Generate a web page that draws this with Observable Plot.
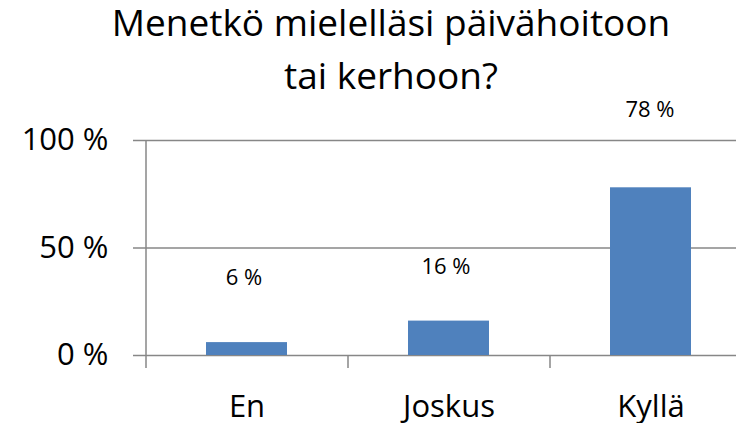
<!DOCTYPE html>
<html>
<head>
<meta charset="utf-8">
<script src="https://cdn.jsdelivr.net/npm/d3@7"></script>
<script src="https://cdn.jsdelivr.net/npm/@observablehq/plot@0.6"></script>
<style>
  html, body { margin: 0; padding: 0; background: white; overflow: hidden; }
  #chart { width: 736px; height: 423px; position: relative; font-family: "Open Sans", sans-serif; }
  #title {
    height: 100px; width: 736px; box-sizing: border-box; padding-left: 46px;
    text-align: center; font-size: 37px; line-height: 53px; color: #000;
    overflow: visible; position: relative; z-index: 1; white-space: nowrap;
  }
  #title span { position: relative; top: -5px; }
</style>
</head>
<body>
<div id="chart">
  <div id="title"><span>Menetkö mielelläsi päivähoitoon<br>tai kerhoon?</span></div>
</div>
<script>
const categories = ["En", "Joskus", "Kyllä"];
const values = [6, 16, 78];
const yTicks = [0, 50, 100];

const rows = categories.map((c, i) => ({cat: c, value: values[i]}));

// label placement offsets (pixels) as in the reference
const labelDy = [-65, -54, -78];
const labelDx = [-3, -3, -1];

const gray = "#878787";
const step = (751 - 145) / categories.length;

const labelMarks = rows.map((r, k) => Plot.text([r], {
  x: "cat", y: "value", text: d => d.value + " %",
  dy: labelDy[k], dx: labelDx[k], fontSize: 22, fill: "#000"
}));

const plot = Plot.plot({
  width: 736,
  height: 323,
  marginLeft: 145,
  marginRight: 0,
  marginTop: 40,
  marginBottom: 68,
  style: {background: "transparent", fontFamily: "Open Sans, sans-serif", overflow: "visible"},
  x: {type: "band", domain: categories, range: [145, 751], paddingInner: 0.6, paddingOuter: 0.3, align: 0.5},
  y: {domain: [0, 100]},
  marks: [
    Plot.ruleY(yTicks, {stroke: gray, strokeWidth: 1.5, strokeOpacity: 1}),
    Plot.ruleX([categories[0]], {y1: -6, y2: 100, dx: -step / 2, stroke: gray, strokeWidth: 1.5}),
    Plot.ruleX(categories.slice(1), {y1: -6, y2: 0, dx: -step / 2, stroke: gray, strokeWidth: 1.5}),
    Plot.barY(rows, {x: "cat", y: "value", fill: "#4f81bd"}),
    Plot.axisY({ticks: yTicks, tickFormat: d => d + " %", tickSize: 12, tickPadding: 25,
      fontSize: 31, stroke: gray, strokeWidth: 1.5, strokeOpacity: 1, fill: "#000", label: null}),
    Plot.axisX({tickSize: 0, tickPadding: 39, fontSize: 31, fill: "#000", label: null}),
    ...labelMarks
  ]
});
document.getElementById("chart").appendChild(plot);
</script>
</body>
</html>
